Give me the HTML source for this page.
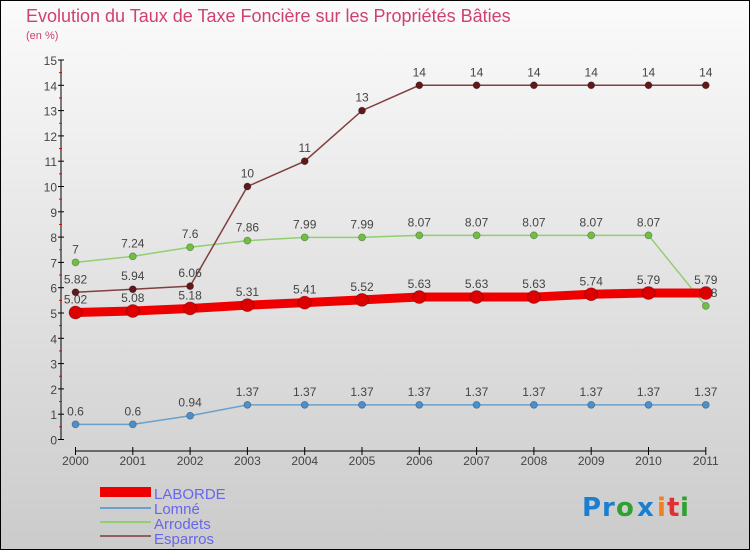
<!DOCTYPE html>
<html><head><meta charset="utf-8"><style>
body{margin:0;width:750px;height:550px;overflow:hidden;font-family:"Liberation Sans",sans-serif}
svg{display:block}
</style></head><body>
<svg id="chart" width="750" height="550" xmlns="http://www.w3.org/2000/svg">
<defs><linearGradient id="bg" x1="0" y1="0" x2="0" y2="1"><stop offset="0" stop-color="#fbfbfb"/><stop offset="1" stop-color="#cbcbcb"/></linearGradient></defs>
<rect x="0.5" y="0.5" width="749" height="549" fill="url(#bg)" stroke="#000"/>
<text x="26" y="22" font-size="18" fill="#d04070">Evolution du Taux de Taxe Foncière sur les Propriétés Bâties</text>
<text x="26" y="39" font-size="11" fill="#d04070">(en %)</text>
<g id="axes"></g><g id="series"></g>
<g font-size="15" fill="#6666ee">
<rect x="100" y="487" width="51" height="10" fill="#e00"/><text x="154" y="499">LABORDE</text>
<rect x="100" y="507" width="51" height="2" fill="#6aa0cc"/><text x="154" y="514">Lomné</text>
<rect x="100" y="521" width="51" height="2" fill="#90d070"/><text x="154" y="529">Arrodets</text>
<rect x="100" y="535" width="51" height="2" fill="#906060"/><text x="154" y="544">Esparros</text>
</g>
<g font-size="26" font-weight="bold" font-family="'DejaVu Sans',sans-serif">
<text x="582" y="516" fill="#1a7fd0">P</text><text x="602" y="516" fill="#1a7fd0">r</text><text x="616" y="516" fill="#30a030">o</text><text x="637" y="516" fill="#1a7fd0">x</text><text x="657" y="516" fill="#f08020">i</text><text x="667" y="516" fill="#e03030">t</text><text x="680" y="516" fill="#30a030">i</text>
</g>
</svg>
<script>
const years=[2000,2001,2002,2003,2004,2005,2006,2007,2008,2009,2010,2011];
const laborde=[5.02,5.08,5.18,5.31,5.41,5.52,5.63,5.63,5.63,5.74,5.79,5.79];
const lomne=[0.6,0.6,0.94,1.37,1.37,1.37,1.37,1.37,1.37,1.37,1.37,1.37];
const arrodets=[7,7.24,7.6,7.86,7.99,7.99,8.07,8.07,8.07,8.07,8.07,5.28];
const esparros=[5.82,5.94,6.06,10,11,13,14,14,14,14,14,14];
const yTicks=[0,1,2,3,4,5,6,7,8,9,10,11,12,13,14,15];
const NS='http://www.w3.org/2000/svg';
const X=i=>75.5+i*57.3, Y=v=>439.5-v*25.3;
function mk(tag,attrs,parent){const e=document.createElementNS(NS,tag);for(const k in attrs)e.setAttribute(k,attrs[k]);parent.appendChild(e);return e;}
const ax=document.getElementById('axes'), sg=document.getElementById('series');
let l=mk('line',{x1:61,y1:Y(15),x2:61,y2:Y(0),stroke:'#000'},ax);


yTicks.forEach(t=>{
 mk('line',{x1:58,x2:64,y1:Y(t),y2:Y(t),stroke:'#000'},ax);
 if(t<15){mk('line',{x1:59,x2:62,y1:Y(t+0.5),y2:Y(t+0.5),stroke:'#e00'},ax);}
 const tx=mk('text',{x:57,y:Y(t)+5,'font-size':12,fill:'#444','text-anchor':'end'},ax);tx.textContent=t;
 
 
});
l=mk('line',{x1:X(0),y1:451,x2:X(11),y2:451,stroke:'#000'},ax);


years.forEach((y,i)=>{
 mk('line',{x1:X(i),x2:X(i),y1:447,y2:455,stroke:'#000'},ax);
 const tx=mk('text',{x:X(i),y:465,'font-size':12,fill:'#444','text-anchor':'middle'},ax);tx.textContent=y;
 
 
});
function series(name,vals,col,dot,w,r){
 const g=mk('g',{},sg);
 
 
 mk('polyline',{points:vals.map((v,i)=>X(i)+','+Y(v)).join(' '),fill:'none',stroke:col,'stroke-width':w},g);
 vals.forEach((v,i)=>{
  const c=mk('circle',{cx:X(i),cy:Y(v),r:r,fill:dot,stroke:'rgba(0,0,0,0.3)','stroke-width':0.8},g);
  
  
  const t=mk('text',{x:X(i),y:Y(v)-9,'font-size':12,fill:'#444','text-anchor':'middle'},g);
  t.textContent=String(v);
  
  
 });
}
series('lomne',lomne,'#6aa0cc','#4a90cc',1.5,3.5);
series('arrodets',arrodets,'#90d070','#70c040',1.5,3.5);
series('esparros',esparros,'#804040','#601818',1.5,3.5);
series('laborde',laborde,'#ee0000','#dd0000',9,6.5);
</script>
</body></html>
